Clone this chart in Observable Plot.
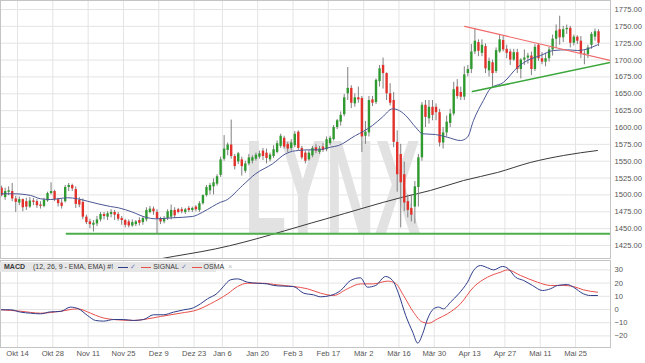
<!DOCTYPE html>
<html>
<head>
<meta charset="utf-8">
<script src="https://cdn.jsdelivr.net/npm/d3@7"></script>
<script src="https://cdn.jsdelivr.net/npm/@observablehq/plot@0.6"></script>
<style>
  html, body { margin: 0; padding: 0; background: #fff; }
  #wrap { position: relative; width: 645px; height: 363px; overflow: hidden; font-family: "Liberation Sans", Arial, sans-serif; }
  #main { position: absolute; left: 0; top: 0; }
  #macd { position: absolute; left: 0; top: 259px; }
  #legend { position: absolute; left: 0; top: 262px; width: 212px; height: 10px; padding-left: 4px;
            background: #e6e6e6; color: #3a3a3a; font-size: 7px; line-height: 10px; white-space: nowrap; z-index: 2; }
  #legend b { margin-right: 8px; }
  #legend .ln { display: inline-block; width: 10px; height: 0; border-top: 1.5px solid #2f3d8a; vertical-align: middle; margin: 0 2px 0 5px; }
  #legend .ln.red { border-top-color: #e8504a; }
  #legend .ck { color: #6a7fc0; }
  #legend .x { color: #bbb; margin-left: 4px; }
</style>
</head>
<body>
<div id="wrap">
  <div id="main"></div>
  <div id="macd"></div>
  <div id="legend"><b>MACD</b>(12, 26, 9 - EMA, EMA) #!<span class="ln"></span><span class="ck">✓</span><span class="ln red"></span>SIGNAL <span class="ck">✓</span><span class="ln red"></span>OSMA<span class="x">×</span></div>
</div>
<script>
// ---- x axis (trading-day index of each labelled date) ----
const tickLabels = ["Okt 14","Okt 28","Nov 11","Nov 25","Dez 9","Dez 23","Jan 6","Jan 20","Feb 3","Feb 17","Mär 2","Mär 16","Mär 30","Apr 13","Apr 27","Mai 11","Mai 25"];
const tickDay = [5,15,25,35,45,55,63,73,83,93,103,113,123,133,143,153,163];
const priceTicks = [1425,1450,1475,1500,1525,1550,1575,1600,1625,1650,1675,1700,1725,1750,1775];
const macdTicks = [-20,-10,0,10,20,30];

// ---- daily candles (Oct 7 .. Jun 2) ----
const open = [1510,1496,1504,1505,1494,1488,1493,1490,1482,1491,1490,1485,1483,1491,1502,1505,1493,1488,1490,1511,
1514,1508,1492,1489,1467,1460,1455,1457,1463,1471,1467,1471,1474,1471,1465,1462,1460,1454,1456,1462,
1459,1463,1474,1479,1474,1464,1460,1465,1467,1477,1478,1478,1474,1480,1477,1482,1477,1487,1499,1506,
1512,1516,1529,1553,1566,1574,1557,1549,1552,1535,1546,1550,1553,1556,1565,1562,1552,1557,1563,1572,
1584,1575,1569,1573,1593,1569,1562,1552,1558,1570,1563,1571,1567,1576,1582,1600,1608,1619,1650,1658,
1635,1644,1643,1587,1592,1641,1637,1668,1692,1680,1650,1640,1578,1560,1530,1490,1480,1482,1511,1555,
1633,1613,1630,1630,1622,1577,1592,1606,1620,1660,1652,1645,1680,1686,1712,1726,1710,1720,1684,1696,
1683,1712,1729,1716,1712,1700,1711,1686,1700,1703,1706,1686,1722,1702,1697,1702,1715,1731,1745,1733,
1745,1747,1725,1734,1728,1709,1708,1722,1734,1742];
const high = [1513,1510,1512,1517,1498,1497,1494,1495,1496,1495,1493,1490,1495,1504,1518,1507,1495,1493,1514,1517,
1516,1512,1496,1494,1470,1464,1462,1468,1474,1474,1475,1478,1477,1474,1468,1464,1463,1463,1462,1466,
1468,1481,1483,1482,1478,1467,1468,1478,1485,1481,1480,1481,1480,1483,1482,1484,1490,1500,1514,1517,
1524,1530,1556,1588,1577,1611,1560,1563,1556,1550,1560,1558,1562,1565,1569,1568,1562,1573,1580,1590,
1587,1578,1582,1594,1595,1572,1565,1566,1572,1575,1572,1576,1586,1587,1603,1612,1623,1649,1689,1662,
1650,1660,1646,1609,1646,1646,1672,1692,1703,1681,1665,1652,1595,1575,1549,1500,1500,1520,1560,1637,
1640,1640,1640,1635,1627,1600,1617,1627,1667,1671,1660,1690,1692,1723,1747,1730,1730,1724,1703,1700,
1718,1738,1735,1722,1716,1716,1716,1702,1715,1710,1712,1723,1724,1711,1710,1719,1737,1752,1765,1750,
1752,1750,1737,1736,1735,1714,1722,1741,1746,1745];
const low = [1497,1492,1499,1490,1474,1484,1475,1477,1480,1484,1480,1479,1481,1489,1500,1490,1482,1479,1488,1505,
1505,1480,1481,1463,1456,1450,1445,1453,1460,1463,1462,1466,1462,1461,1455,1451,1451,1452,1453,1454,
1455,1460,1472,1470,1442,1456,1457,1462,1463,1465,1472,1472,1471,1474,1474,1475,1474,1485,1497,1500,
1500,1513,1526,1550,1558,1553,1537,1545,1528,1532,1543,1546,1550,1553,1551,1546,1549,1554,1561,1569,
1568,1563,1565,1570,1566,1552,1546,1550,1555,1561,1560,1563,1564,1573,1580,1597,1602,1616,1640,1628,
1630,1636,1563,1575,1586,1631,1634,1660,1657,1640,1632,1570,1504,1451,1475,1466,1460,1457,1482,1550,
1600,1605,1610,1610,1571,1568,1586,1600,1617,1642,1640,1640,1675,1680,1708,1705,1705,1680,1675,1660,
1680,1710,1712,1702,1692,1698,1680,1672,1692,1694,1677,1683,1698,1693,1690,1697,1706,1717,1722,1726,
1738,1718,1721,1723,1702,1693,1702,1716,1728,1720];
const close = [1499,1505,1506,1494,1489,1493,1481,1482,1491,1489,1484,1483,1492,1502,1505,1493,1487,1483,1511,1514,
1509,1486,1485,1467,1459,1456,1458,1463,1471,1468,1472,1474,1470,1464,1462,1455,1454,1459,1460,1458,
1465,1477,1479,1475,1464,1460,1465,1475,1477,1469,1474,1475,1478,1477,1480,1478,1487,1499,1511,1514,
1518,1527,1552,1568,1574,1557,1542,1561,1542,1546,1555,1555,1559,1561,1557,1554,1559,1567,1576,1587,
1571,1568,1577,1590,1569,1555,1550,1562,1569,1565,1568,1566,1582,1584,1600,1610,1618,1644,1658,1636,
1644,1641,1586,1593,1640,1636,1670,1687,1680,1650,1636,1578,1530,1518,1488,1477,1470,1512,1555,1633,
1615,1630,1618,1622,1577,1592,1608,1620,1656,1646,1645,1678,1686,1712,1728,1713,1722,1687,1698,1680,
1714,1730,1715,1710,1700,1711,1686,1700,1703,1706,1686,1719,1702,1697,1702,1715,1731,1743,1733,1745,
1747,1725,1734,1728,1709,1708,1718,1738,1742,1725];

// ---- moving averages ----
const ma20Day = [-0.3,3.4,8.2,11,13.8,18.7,21.5,24.3,30.8,33.1,37.1,40.7,43.6,48.4,54,56.9,59.7,62,63.4,68.2,71.9,76.7,80.4,82.4,84.1,86.9,89.7,93.1,95.4,100.2,102.5,105,107.8,110.7,112.1,114.4,117.2,119.2,122.8,126.2,129.9,131.9,133.6,136.4,138.4,142.1,146.1,148.9,152.6,156.3,160.2,163.1,164.8,168.7];
const ma20 = [1501.7,1501.7,1499.2,1494.3,1493.2,1495.8,1494.3,1490.7,1482.8,1480.9,1474.4,1467,1464.6,1466.1,1468,1474.4,1482.8,1489.2,1491.7,1514,1531.3,1546.1,1561,1564.8,1565.9,1566.9,1566.9,1570.8,1573.3,1588.1,1594.5,1603,1615.3,1627.7,1626.3,1617.8,1600.5,1590.7,1589.6,1585.6,1580.7,1585.6,1610.4,1640,1657.8,1667,1689.4,1699.4,1706.8,1714.2,1715.2,1714.2,1715.2,1722.6];
const ma200Day = [38,45,60.6,91.7,113.5,121.4,130.8,140.4,149.7,159.1,168.7];
const ma200 = [1398,1405.3,1420,1464.3,1496.6,1506.6,1521.4,1533.3,1548.1,1558.5,1565.9];

// ---- trend lines ----
const resDay = [131.1,172.4], resPrice = [1750,1699.4];
const supDay = [133.3,172.4], supPrice = [1653.4,1696.5];
const baseDay = [18.4,172.4], basePrice = [1442.4,1442.4];

// ---- MACD (12,26,9) ----
const macdDay = [-0.3,2.5,5.4,8.2,11,13.8,16.7,19.5,21.8,24.3,26.6,28.9,31.7,34.5,37.3,40.2,43,45.8,48.7,51.5,54.3,56.3,58.3,61.1,62.8,64.8,66.8,69.6,72.4,75.3,77,79.8,82.6,85.5,88.3,90.3,93.1,96,98.8,101.6,103.6,105.9,108.7,110.7,112.4,114.4,116.4,117.8,119.2,120.6,122.3,123.7,125.1,127.1,129.4,131.9,133.6,135.6,137.6,139.3,141.8,143.5,145.5,147.8,150.3,153.1,155.4,157.4,160.2,161.9,164.7,166.7,168.7];
const macd = [-0.2,-0.2,-2,-2.8,-3.3,-1.8,-1.5,1.8,0.5,-4.5,-8.3,-8.8,-7.6,-7.6,-8.3,-7.6,-4,-4,-2,-0.3,1.3,4.3,8.1,12.4,17.4,22.5,23.2,20.7,19.9,19.4,18.2,17.7,17.4,12.4,11.1,9.6,10.6,14.4,22,24,16.9,18.2,25,22,11.9,-4.5,-17.2,-25.5,-18.4,-7.1,0.5,1.8,0.5,5.6,11.9,20.7,29.5,33.3,31.6,30,32.6,30.8,24.5,22,18.2,14.4,15.7,18.2,18.9,16.9,11.9,10.6,10.6];
const signalDay = [-0.3,5.4,11,16.7,21.5,25.2,28,31.7,37.3,41.3,45,50.6,55.5,59.1,64,66.8,69.6,73.3,78.1,82.6,86.6,90.3,94,97.9,101.6,105.3,109.3,111.5,113.8,116.6,119.2,120.9,123.4,126.2,129.9,133.6,137.6,141.3,143.2,146.9,151.7,155.4,159.1,161.9,164.7,168.7];
const signal = [-0.2,-1.3,-2.8,-1.3,0.5,-2.8,-5.8,-7.6,-8.3,-7.1,-5.3,-2.8,-0.2,4.3,11.9,17.4,19.9,19.9,18.7,17.4,15.7,12.4,10.6,15.7,19.4,19.4,21.5,19.9,10.6,-2,-9.6,-10.4,-7.1,-3.3,4.3,16.9,24.5,28.3,30,25.8,20.7,18.2,18.2,17.4,14.9,13.1];

// ---- build tables ----
const candles = open.map((o, i) => ({i, o, h: high[i], l: low[i], c: close[i]}));
const up = candles.filter(d => d.c >= d.o), down = candles.filter(d => d.c < d.o);
const pts = (xs, ys) => xs.map((x, k) => ({x, y: ys[k]}));
const gridPos = tickDay.map(d => d - 0.5);          // grid lines sit at the slot boundary
const labelOf = v => tickLabels[gridPos.indexOf(v)];
const xDomain = [-0.313, 172.39];
const font = "Liberation Sans, Arial, sans-serif";
const gridColor = "#e4e4e4";

const main = Plot.plot({
  width: 645, height: 259,
  marginLeft: 0, marginRight: 35, marginTop: 0, marginBottom: 1,
  style: {fontSize: "7.6px", fontFamily: font, color: "#555", background: "transparent", overflow: "visible"},
  x: {domain: xDomain, axis: null},
  y: {domain: [1405.72, 1788.35], axis: "right", ticks: priceTicks, tickFormat: d3.format(".2f"), tickSize: 0, tickPadding: 4, label: null},
  marks: [
    Plot.ruleY(priceTicks, {stroke: gridColor}),
    Plot.ruleX(gridPos, {stroke: gridColor}),
    Plot.text(["LYNX"], {text: d => d, frameAnchor: "middle", dx: 27, dy: 61, fontSize: 134, fontWeight: "bold", fontFamily: font, fill: "#e2e2e2"}),
    Plot.line(pts(ma200Day, ma200), {x: "x", y: "y", stroke: "#3a3a3a", strokeWidth: 1, curve: "monotone-x", clip: true}),
    Plot.line(pts(baseDay, basePrice), {x: "x", y: "y", stroke: "#4cae4c", strokeWidth: 2, clip: true}),
    Plot.ruleX(candles, {x: "i", y1: "l", y2: "h", stroke: "#808080", strokeWidth: 1}),
    Plot.ruleX(up, {x: "i", y1: "o", y2: "c", stroke: "#2f9a2f", strokeWidth: 2.4}),
    Plot.ruleX(down, {x: "i", y1: "o", y2: "c", stroke: "#e2312b", strokeWidth: 2.4}),
    Plot.line(pts(ma20Day, ma20), {x: "x", y: "y", stroke: "#4b5694", strokeWidth: 1, curve: "monotone-x", clip: true}),
    Plot.line(pts(resDay, resPrice), {x: "x", y: "y", stroke: "#f06a6a", strokeWidth: 1.2, clip: true}),
    Plot.line(pts(supDay, supPrice), {x: "x", y: "y", stroke: "#3aa63a", strokeWidth: 1.6, clip: true}),
    Plot.frame({stroke: "#c4c4c4"})
  ]
});
const wm = [...main.querySelectorAll("text")].find(t => t.textContent === "LYNX");
if (wm) { wm.setAttribute("textLength", 176); wm.setAttribute("lengthAdjust", "spacingAndGlyphs"); }
document.getElementById("main").appendChild(main);

const macdPlot = Plot.plot({
  width: 645, height: 104,
  marginLeft: 0, marginRight: 35, marginTop: 1, marginBottom: 16,
  style: {fontSize: "7.6px", fontFamily: font, color: "#555", background: "transparent", overflow: "visible"},
  x: {domain: xDomain, ticks: gridPos, tickFormat: labelOf, tickSize: 0, tickPadding: 3, label: null},
  y: {domain: [-28.79, 37.12], axis: "right", ticks: macdTicks, tickSize: 0, tickPadding: 4, label: null},
  marks: [
    Plot.ruleY(macdTicks, {stroke: gridColor}),
    Plot.ruleX(gridPos, {stroke: gridColor}),
    Plot.line(pts(signalDay, signal), {x: "x", y: "y", stroke: "#e8504a", strokeWidth: 1, curve: "monotone-x", clip: true}),
    Plot.line(pts(macdDay, macd), {x: "x", y: "y", stroke: "#2f3d8a", strokeWidth: 1, curve: "monotone-x", clip: true}),
    Plot.frame({stroke: "#c4c4c4"})
  ]
});
document.getElementById("macd").appendChild(macdPlot);
</script>
</body>
</html>
